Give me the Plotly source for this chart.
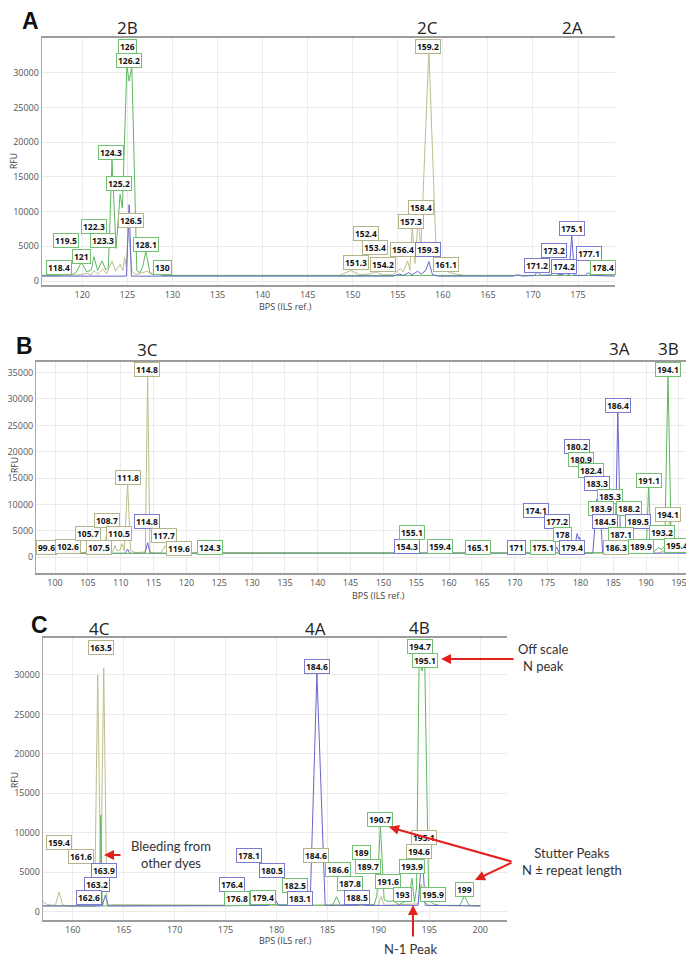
import plotly.graph_objects as go

# ---------------- DATA ----------------
# Panel A electropherogram traces (size in bp, RFU)
A_green_x = [115.5, 117.5, 118.2, 118.8, 119.3, 119.9, 120.5, 121.0, 121.3, 121.7, 122.2, 122.6, 122.9,
             123.3, 123.75, 124.2, 124.45, 124.95, 125.2, 125.5, 126.05, 126.4, 126.7, 127.05, 127.5,
             128.0, 128.4, 128.8, 177.5, 178.3, 179.1]
A_green_y = [800, 850, 1000, 900, 1200, 2700, 1300, 1600, 3500, 1500, 2900, 1600, 2000,
             17400, 4700, 12500, 10500, 31000, 28800, 30900, 1500, 1200, 2000, 4300, 1200,
             900, 1200, 800, 800, 1000, 900]
A_tan_x = [115.5, 119.5, 120.5, 121.0, 121.3, 121.7, 122.3, 122.7, 123.3, 123.7, 124.2, 124.5, 124.7,
           124.9, 125.1, 125.5, 125.9, 127.2, 127.8, 128.6, 129.2, 148.5, 149.8, 150.8, 151.8, 152.6,
           153.3, 154.5, 155.3, 155.6, 156.1, 156.35, 156.6, 156.9, 157.3, 157.55, 158.45, 159.3,
           159.6, 160.2, 160.8, 161.5, 162.5, 179.1]
A_tan_y = [800, 850, 1100, 900, 1500, 1000, 1700, 1000, 2900, 1400, 2400, 1500, 3400,
           2000, 7800, 1500, 900, 1400, 900, 1100, 800, 800, 1500, 900, 1000, 1300,
           900, 900, 1800, 1300, 2900, 1500, 8000, 2500, 9500, 4000, 33300, 2500,
           1800, 1500, 1200, 1000, 800, 800]
A_blue_x = [115.5, 124.9, 125.2, 125.45, 154.5, 155.2, 155.6, 156.2, 156.6, 157.2, 157.6, 158.1,
            158.45, 158.85, 159.5, 167.8, 168.3, 168.8, 170.2, 170.5, 170.9, 172.0, 172.4, 172.8,
            173.4, 173.7, 174.0, 174.3, 174.6, 175.8, 176.1, 176.5, 179.1]
A_blue_y = [700, 700, 11000, 700, 700, 1000, 800, 1200, 900, 1400, 1000, 1500,
            2800, 900, 700, 700, 900, 700, 800, 1350, 800, 900, 1500, 900,
            1000, 1200, 800, 6700, 800, 800, 1200, 800, 700]

# Panel B traces
B_tan_x = [97.1, 99.5, 102.5, 104.6, 105.06, 105.5, 106.6, 107.0, 107.5, 107.75, 108.0, 108.3, 108.8,
           109.1, 109.4, 109.9, 110.2, 110.55, 111.05, 111.5, 112.2, 113.2, 113.75, 114.1, 114.45,
           116.1, 116.8, 117.3, 118.4, 118.8, 184.5, 185.0, 185.5, 186.0, 186.6, 192.0, 192.6,
           193.0, 193.6, 194.0, 194.8, 195.4, 197.0]
B_tan_y = [800, 850, 850, 900, 2000, 900, 1000, 1400, 1000, 3800, 4500, 1200, 1100,
           2300, 1200, 1400, 2600, 1200, 14000, 1300, 900, 900, 1000, 34800, 900,
           800, 2200, 900, 1100, 900, 800, 1100, 900, 1200, 800, 800, 1200,
           1000, 7400, 900, 1100, 900, 800]
B_blue_x = [97.1, 110.7, 111.05, 111.4, 113.7, 114.1, 114.5, 170.0, 170.4, 170.8, 176.0, 176.4, 176.8,
            178.8, 179.3, 179.5, 179.75, 179.9, 180.2, 181.9, 182.5, 182.7, 182.9, 183.4, 185.3,
            185.7, 186.15, 187.0, 188.5, 197.0]
B_blue_y = [760, 760, 1570, 760, 760, 2770, 760, 760, 900, 760, 800, 1900, 800,
            800, 3000, 4500, 3500, 3800, 800, 800, 11000, 10500, 11500, 800, 800,
            27900, 800, 900, 800, 760]
B_green_x = [97.1, 123.5, 124.3, 125.0, 175.5, 176.1, 176.5, 180.0, 184.4, 184.8, 185.2, 186.4, 186.8,
             187.3, 189.8, 190.05, 190.4, 190.8, 191.3, 191.9, 192.4, 192.85, 193.35, 193.85, 194.2,
             194.8, 195.1, 195.5, 196.0, 197.0]
B_green_y = [760, 760, 950, 760, 800, 1200, 800, 850, 900, 1500, 1200, 1100, 1500,
             900, 900, 1500, 13700, 1500, 1200, 1800, 1500, 2200, 34500, 2200, 1500,
             2000, 1600, 2500, 1000, 900]

# Panel C traces
C_tan_x = [157.05, 157.5, 158.3, 158.65, 159.0, 159.5, 162.15, 162.45, 162.75, 163.04, 163.35, 163.8,
           179.5, 183.5, 185.8, 190.0, 190.25, 190.6, 193.9, 194.2, 194.5, 195.0, 200.0]
C_tan_y = [1300, 900, 800, 2500, 900, 700, 700, 30000, 3000, 30900, 800, 900,
           800, 800, 900, 800, 1900, 800, 1000, 3500, 1200, 800, 735]
C_green_x = [157.05, 162.6, 162.75, 162.9, 175.5, 176.8, 178.5, 179.2, 179.6, 185.5, 185.9, 186.3,
             187.5, 188.0, 189.6, 189.85, 190.2, 190.57, 191.0, 191.5, 192.0, 192.6, 193.0, 193.3,
             193.55, 193.75, 194.0, 194.27, 194.55, 194.95, 195.4, 196.0, 198.0, 198.45, 198.9, 200.0]
C_green_y = [735, 735, 12250, 735, 800, 900, 800, 1300, 900, 800, 1900, 800,
             900, 800, 900, 2000, 10860, 1500, 1300, 1400, 900, 1200, 1500, 4230,
             1200, 3000, 31800, 30500, 31800, 1500, 1000, 800, 800, 2030, 800, 735]
C_blue_x = [157.05, 162.9, 163.2, 163.5, 175.0, 179.3, 179.6, 179.9, 180.2, 183.3, 183.97, 184.78,
            187.9, 188.2, 188.6, 193.9, 194.3, 194.6, 200.0]
C_blue_y = [735, 735, 2100, 735, 750, 800, 2000, 1500, 800, 800, 30200, 800,
            800, 1000, 800, 800, 7800, 800, 735]

# Peak-call labels: text, dye, anchor size (bp), anchor RFU
A_lab_text = ["118.4", "121", "119.5", "122.3", "123.3", "124.3", "125.2", "126", "126.2", "126.5", "128.1", "130",
              "151.3", "152.4", "153.4", "154.2", "156.4", "157.3", "158.4", "159.2", "159.3", "161.1",
              "171.2", "173.2", "174.2", "175.1", "177.1", "178.4"]
A_lab_dye = ["g", "g", "g", "g", "g", "g", "g", "g", "g", "t", "g", "g",
             "t", "t", "t", "t", "t", "t", "t", "t", "b", "t",
             "b", "b", "b", "b", "b", "g"]
A_lab_x = [117.46, 119.94, 118.2, 121.34, 122.28, 123.2, 124.12, 125.06, 125.23, 125.42, 127.09, 128.94,
           150.42, 151.53, 152.53, 153.34, 155.57, 156.5, 157.53, 158.39, 158.39, 160.31,
           170.42, 172.34, 173.39, 174.31, 176.23, 177.72]
A_lab_y = [1920, 3600, 5810, 7820, 5810, 18550, 14080, 33760, 31750, 8790, 5290, 1920,
           2690, 6870, 4860, 2310, 4470, 8550, 10620, 33760, 4570, 2410,
           2200, 4370, 2060, 7590, 3990, 1970]

B_lab_text = ["99.6", "102.6", "105.7", "107.5", "108.7", "110.5", "111.8", "114.8", "114.8", "117.7", "119.6", "124.3",
              "154.3", "155.1", "159.4", "165.1", "171", "174.1", "175.1", "177.2", "178", "179.4",
              "180.2", "180.9", "182.4", "183.3", "185.3", "183.9", "188.2", "184.5", "189.5", "187.1",
              "186.3", "189.9", "186.4", "191.1", "194.1", "194.1", "193.2", "195.4"]
B_lab_dye = ["t", "t", "t", "t", "t", "t", "t", "t", "b", "t", "t", "g",
             "b", "g", "g", "g", "b", "b", "g", "b", "g", "b",
             "b", "g", "g", "b", "g", "g", "g", "b", "b", "g",
             "t", "g", "b", "g", "g", "t", "g", "g"]
B_lab_x = [98.73, 101.92, 104.97, 106.69, 107.95, 109.78, 111.06, 114.04, 114.04, 116.58, 118.87, 123.58,
           153.61, 154.38, 158.59, 164.42, 170.27, 173.31, 174.31, 176.45, 177.27, 178.73,
           179.49, 180.16, 181.57, 182.53, 184.47, 183.2, 187.4, 183.81, 188.77, 186.25,
           185.49, 189.19, 185.73, 190.45, 193.34, 193.34, 192.49, 194.77]
B_lab_y = [1890, 2010, 4550, 1890, 6930, 4550, 15080, 35610, 6740, 4220, 1700, 1890,
           2010, 4740, 2010, 1890, 1890, 8960, 1820, 6740, 4360, 1890,
           21080, 18620, 16400, 14020, 11610, 9280, 9280, 6880, 6880, 4410,
           1890, 2010, 28850, 14640, 35610, 8140, 4740, 2200]

C_lab_text = ["163.5", "159.4", "161.6", "163.9", "163.2", "162.6", "178.1", "180.5", "176.4", "182.5", "176.8",
              "179.4", "183.1", "184.6", "184.6", "186.6", "187.8", "188.5", "189", "189.7", "190.7", "191.6",
              "193", "193.9", "194.6", "195.1", "195.9", "199", "194.7", "195.1"]
C_lab_dye = ["t", "t", "t", "b", "b", "b", "b", "b", "b", "g", "g",
             "g", "b", "b", "t", "g", "g", "b", "g", "g", "g", "g",
             "g", "g", "t", "t", "g", "g", "g", "g"]
C_lab_x = [162.75, 158.68, 160.81, 163.07, 162.35, 161.63, 177.34, 179.55, 175.67, 181.83, 176.11,
           178.72, 182.26, 183.97, 183.9, 185.99, 187.17, 187.9, 188.39, 189.03, 190.18, 190.94,
           192.37, 193.3, 194.01, 194.44, 195.32, 198.44, 194.11, 194.6]
C_lab_y = [33500, 8740, 6970, 5280, 3470, 1770, 7060, 5190, 3470, 3380, 1700,
           1770, 1610, 31130, 7060, 5370, 3600, 1770, 7530, 5700, 11620, 3890,
           2120, 5700, 7600, 9380, 2120, 2840, 33580, 31890]

# Axis ticks
A_xticks = [120, 125, 130, 135, 140, 145, 150, 155, 160, 165, 170, 175]
B_xticks = list(range(100, 200, 5))
C_xticks = [160, 165, 170, 175, 180, 185, 190, 195, 200]
A_yticks = [0, 5000, 10000, 15000, 20000, 25000, 30000]
B_yticks = [0, 5000, 10000, 15000, 20000, 25000, 30000, 35000]
C_yticks = [0, 5000, 10000, 15000, 20000, 25000, 30000]

# ---------------- STYLE ----------------
# The page body has an 8 px margin, so the figure is 8 px smaller than the window
OFF = 8
W, H = 694 - OFF, 964 - OFF
LINE = {"g": "#5fb85f", "t": "#bebe8c", "b": "#6767cc"}
BORDER = {"g": "#72c072", "t": "#b4b488", "b": "#7a7ad0"}
FONT = "Open Sans"


def px(xp, yp):
    """window pixel -> paper fraction"""
    return (xp - OFF) / W, 1 - (yp - OFF) / H


fig = go.Figure()

panels = [
    ("", "", [("t", A_tan_x, A_tan_y), ("g", A_green_x, A_green_y), ("b", A_blue_x, A_blue_y)],
     (A_lab_text, A_lab_dye, A_lab_x, A_lab_y)),
    ("2", "2", [("t", B_tan_x, B_tan_y), ("b", B_blue_x, B_blue_y), ("g", B_green_x, B_green_y)],
     (B_lab_text, B_lab_dye, B_lab_x, B_lab_y)),
    ("3", "3", [("t", C_tan_x, C_tan_y), ("g", C_green_x, C_green_y), ("b", C_blue_x, C_blue_y)],
     (C_lab_text, C_lab_dye, C_lab_x, C_lab_y)),
]

annotations = []
for xs, ys, traces, labs in panels:
    for dye, tx, ty in traces:
        fig.add_trace(go.Scatter(x=tx, y=ty, mode="lines", line=dict(color=LINE[dye], width=1),
                                 xaxis="x" + xs, yaxis="y" + ys, hoverinfo="skip"))
    for t, d, lx, ly in zip(*labs):
        annotations.append(dict(x=lx, y=ly, xref="x" + xs, yref="y" + ys, text="<b>" + t + "</b>",
                                showarrow=False, font=dict(family=FONT, size=8.5, color="#111"),
                                bgcolor="rgba(255,255,255,0.92)", bordercolor=BORDER[d],
                                borderwidth=1, borderpad=1))

axis_common = dict(showgrid=True, gridcolor="#ebebeb", gridwidth=1, zeroline=False, automargin=False,
                   tickfont=dict(family=FONT, size=9, color="#555"), ticks="", showline=True,
                   tickformat="d", ticklabeloverflow="allow")

dom = {
    "A": (px(41.7, 0)[0], px(615, 0)[0], px(0, 285)[1], px(0, 38)[1]),
    "B": (px(36, 0)[0], px(692, 0)[0], px(0, 573)[1], px(0, 362)[1]),
    "C": (px(42.7, 0)[0], px(506.7, 0)[0], px(0, 920)[1], px(0, 638.3)[1]),
}

layout = dict(width=W, height=H, margin=dict(l=0, r=0, t=0, b=0), showlegend=False,
              template="none", plot_bgcolor="white", paper_bgcolor="white")

spec = [("", "A", [115.5, 179.1], [-576, 35014], A_xticks, A_yticks),
        ("2", "B", [97.1, 197.0], [-2970, 37000], B_xticks, B_yticks),
        ("3", "C", [157.05, 202.6], [-1052, 34640], C_xticks, C_yticks)]
for s, k, xr, yr, xt, yt in spec:
    x0, x1, y0, y1 = dom[k]
    layout["xaxis" + s] = dict(axis_common, domain=[x0, min(x1, 1.0)], range=xr, tickvals=xt, anchor="y" + s,
                               mirror=True, linecolor="#9c9c9c", linewidth=2)
    layout["yaxis" + s] = dict(axis_common, domain=[y0, y1], range=yr, tickvals=yt, anchor="x" + s,
                               linecolor="#a8a8a8", linewidth=1)


def text(xp, yp, t, size, color="#222", bold=False, family=FONT, xanchor="center", angle=0):
    x, y = px(xp, yp)
    annotations.append(dict(x=x, y=y, xref="paper", yref="paper", text=("<b>%s</b>" % t) if bold else t,
                            showarrow=False, xanchor=xanchor, yanchor="middle", textangle=angle,
                            font=dict(family=family, size=size, color=color)))


# panel letters
text(30, 21, "A", 23, "#111", True, "Liberation Sans")
text(24, 346, "B", 23, "#111", True, "Liberation Sans")
text(39, 625, "C", 23, "#111", True, "Liberation Sans")
# locus names
for xp, yp, t in [(127, 27, "2B"), (427, 27, "2C"), (572, 27, "2A"),
                  (147, 349, "3C"), (619, 348, "3A"), (668, 348, "3B"),
                  (99, 628, "4C"), (315, 628, "4A"), (420, 627, "4B")]:
    text(xp, yp, t, 17, "#222")
# axis titles
for xp, yp in [(14, 161), (14, 465), (14, 780)]:
    text(xp, yp, "RFU", 8.5, "#444", angle=-90)
for xp, yp in [(285, 306), (378, 595), (285, 940)]:
    text(xp, yp, "BPS (ILS ref.)", 9, "#444")

# explanatory notes (panel C)
NOTE = "Lato"
text(516, 657, "Off scale<br>N peak", 13, "#333", family=NOTE, xanchor="left")
text(520, 861, "Stutter Peaks<br>N ± repeat length", 13, "#333", family=NOTE, xanchor="left")
text(129, 854, "Bleeding from<br>other dyes", 13, "#333", family=NOTE, xanchor="left")
text(410, 949, "N-1 Peak", 13, "#333", family=NOTE)


def arrow(hx, hy, tx, ty):
    x, y = px(hx, hy)
    annotations.append(dict(x=x, y=y, xref="paper", yref="paper", text="", showarrow=True,
                            ax=tx - hx, ay=ty - hy, arrowcolor="#e3201b", arrowwidth=2,
                            arrowhead=2, arrowsize=1, standoff=0, startstandoff=0))


arrow(441, 659, 515, 659)
arrow(389, 827, 513, 862)
arrow(475, 880, 513, 862)
arrow(104, 855, 122, 855)
arrow(413, 905, 413, 938)

layout["annotations"] = annotations
fig.update_layout(**layout)
fig.write_html("out.html")
